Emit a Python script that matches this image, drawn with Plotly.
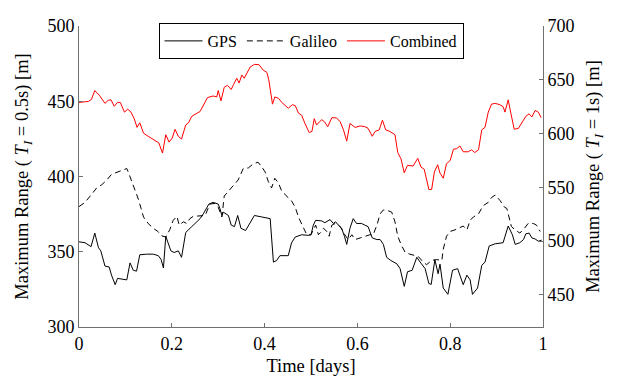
import plotly.graph_objects as go

# ---- data ----
gps_t = [0, 0.013, 0.026, 0.034, 0.042, 0.047, 0.056, 0.065, 0.070, 0.078, 0.083, 0.092, 0.103, 0.110, 0.117, 0.124,
         0.131, 0.146, 0.160, 0.171, 0.177, 0.182, 0.187, 0.192, 0.198, 0.205, 0.214, 0.221, 0.230, 0.243, 0.254,
         0.261, 0.268, 0.275, 0.280, 0.289, 0.300, 0.304, 0.308, 0.311, 0.322, 0.328, 0.335, 0.342, 0.349, 0.359,
         0.369, 0.378, 0.394, 0.412, 0.419, 0.426, 0.433, 0.451, 0.458, 0.466, 0.480, 0.494, 0.500, 0.505, 0.510,
         0.516, 0.523, 0.530, 0.541, 0.548, 0.553, 0.559, 0.566, 0.572, 0.577, 0.584, 0.591, 0.598, 0.609, 0.616,
         0.623, 0.632, 0.642, 0.649, 0.656, 0.663, 0.672, 0.685, 0.692, 0.701, 0.708, 0.718, 0.728, 0.737, 0.746,
         0.754, 0.759, 0.767, 0.774, 0.778, 0.785, 0.795, 0.805, 0.816, 0.828, 0.836, 0.843, 0.848, 0.859, 0.868,
         0.875, 0.884, 0.897, 0.914, 0.925, 0.934, 0.940, 0.950, 0.958, 0.963, 0.970, 0.976, 0.983, 0.990, 0.997]
gps_v = [356.6, 356.0, 353.4, 362.4, 352.7, 350.6, 340.5, 339.9, 334.5, 328.1, 332.3, 332.0, 331.3, 342.6, 337.7, 337.1,
         348.0, 348.4, 348.4, 347.4, 344.8, 339.2, 360.3, 355.9, 350.6, 349.5, 350.6, 346.3, 362.8, 366.7, 369.9,
         372.0, 375.2, 378.5, 381.7, 382.8, 381.7, 378.5, 374.1, 376.3, 374.1, 367.7, 366.7, 374.1, 365.6, 364.1,
         369.9, 374.1, 373.1, 372.0, 343.1, 344.2, 347.4, 347.4, 355.9, 359.8, 361.3, 360.9, 361.3, 367.7, 370.9,
         370.5, 370.5, 369.3, 371.4, 368.8, 369.9, 367.7, 365.6, 360.3, 354.9, 365.6, 372.0, 368.8, 368.8, 367.7,
         366.7, 359.2, 358.1, 358.1, 354.9, 346.3, 344.2, 342.0, 338.8, 327.0, 336.7, 337.7, 346.3, 342.4, 338.8,
         328.9, 328.3, 344.7, 335.4, 341.8, 325.9, 321.7, 337.7, 338.8, 328.1, 334.5, 331.3, 321.7, 325.9, 341.0,
         343.1, 353.8, 355.3, 356.0, 367.1, 361.3, 354.9, 356.0, 358.1, 361.9, 362.4, 359.2, 358.5, 357.0, 357.7]

gal_t = [0, 0.013, 0.027, 0.038, 0.049, 0.060, 0.070, 0.081, 0.092, 0.103, 0.106, 0.114, 0.121, 0.128, 0.134, 0.139,
         0.149, 0.160, 0.170, 0.178, 0.187, 0.196, 0.203, 0.211, 0.216, 0.225, 0.232, 0.239, 0.246, 0.261, 0.272,
         0.282, 0.293, 0.300, 0.308, 0.313, 0.322, 0.333, 0.343, 0.354, 0.365, 0.376, 0.386, 0.394, 0.401, 0.408,
         0.415, 0.422, 0.430, 0.437, 0.448, 0.458, 0.466, 0.473, 0.481, 0.491, 0.500, 0.505, 0.510, 0.516, 0.523,
         0.527, 0.534, 0.539, 0.545, 0.552, 0.563, 0.573, 0.580, 0.588, 0.595, 0.606, 0.616, 0.627, 0.634, 0.642,
         0.649, 0.656, 0.665, 0.674, 0.681, 0.687, 0.694, 0.703, 0.713, 0.724, 0.731, 0.742, 0.749, 0.760, 0.771,
         0.782, 0.785, 0.792, 0.800, 0.810, 0.817, 0.828, 0.836, 0.843, 0.850, 0.861, 0.871, 0.882, 0.889, 0.897,
         0.907, 0.917, 0.922, 0.927, 0.932, 0.940, 0.950, 0.960, 0.968, 0.979, 0.986, 0.994]
gal_v = [380.0, 382.8, 388.1, 392.4, 394.5, 397.7, 401.4, 402.7, 403.5, 405.3, 403.1, 396.7, 390.2, 384.9, 378.5, 373.1,
         368.8, 365.6, 363.5, 360.6, 359.8, 364.9, 370.9, 373.5, 367.7, 369.9, 368.8, 372.0, 373.5, 374.1, 374.1,
         381.7, 382.1, 379.6, 373.1, 387.0, 390.2, 393.4, 397.7, 405.3, 405.7, 408.5, 409.5, 406.3, 403.1, 396.7,
         392.4, 398.8, 395.6, 390.2, 387.0, 383.8, 379.6, 373.1, 367.7, 361.3, 361.3, 364.5, 367.7, 361.3, 363.5,
         365.6, 363.5, 360.3, 367.7, 368.8, 366.7, 361.3, 358.1, 361.3, 358.1, 359.2, 360.3, 361.3, 361.3, 367.7,
         375.2, 377.8, 377.4, 376.3, 369.9, 360.3, 354.9, 349.5, 348.4, 347.4, 346.9, 343.1, 341.4, 344.2, 344.8,
         344.2, 351.6, 360.3, 363.5, 364.5, 365.6, 367.1, 364.5, 370.9, 373.1, 375.2, 380.6, 382.8, 386.0, 387.7,
         384.2, 379.6, 378.8, 372.0, 366.7, 364.5, 362.4, 365.6, 368.8, 368.8, 367.7, 363.5]

comb_t = [0, 0.020, 0.027, 0.034, 0.045, 0.056, 0.063, 0.069, 0.076, 0.083, 0.089, 0.098, 0.105, 0.112, 0.119, 0.125,
          0.131, 0.139, 0.149, 0.164, 0.172, 0.180, 0.187, 0.194, 0.201, 0.207, 0.214, 0.221, 0.230, 0.236, 0.243,
          0.252, 0.261, 0.277, 0.289, 0.297, 0.300, 0.306, 0.313, 0.320, 0.328, 0.333, 0.340, 0.345, 0.351, 0.356,
          0.361, 0.369, 0.378, 0.388, 0.397, 0.405, 0.409, 0.417, 0.422, 0.430, 0.437, 0.444, 0.451, 0.460, 0.466,
          0.473, 0.480, 0.487, 0.496, 0.502, 0.507, 0.512, 0.523, 0.529, 0.536, 0.545, 0.555, 0.563, 0.570, 0.577,
          0.584, 0.595, 0.606, 0.616, 0.623, 0.632, 0.638, 0.647, 0.654, 0.661, 0.670, 0.681, 0.687, 0.694, 0.701,
          0.708, 0.720, 0.730, 0.737, 0.744, 0.754, 0.760, 0.766, 0.773, 0.778, 0.785, 0.792, 0.800, 0.807, 0.814,
          0.821, 0.828, 0.839, 0.846, 0.853, 0.861, 0.868, 0.875, 0.882, 0.889, 0.897, 0.907, 0.914, 0.918, 0.925,
          0.931, 0.938, 0.947, 0.954, 0.963, 0.970, 0.976, 0.983, 0.990, 0.996]
comb_v = [628.9, 629.8, 631.8, 640.0, 634.9, 628.0, 630.9, 631.3, 625.3, 628.9, 628.9, 619.9, 622.6, 619.9, 613.8, 605.7,
          610.0, 600.3, 597.4, 592.9, 591.3, 581.8, 598.9, 592.0, 595.8, 603.9, 597.4, 594.9, 607.9, 610.0, 616.0,
          618.3, 620.5, 633.4, 634.9, 634.0, 640.0, 630.4, 643.0, 644.8, 640.9, 645.4, 651.4, 646.9, 654.4, 651.4,
          655.9, 661.9, 664.3, 664.0, 658.9, 656.8, 649.9, 627.3, 634.0, 632.7, 628.9, 625.9, 623.5, 626.8, 625.9,
          619.0, 616.9, 609.3, 601.0, 601.9, 613.8, 607.9, 612.9, 610.9, 606.4, 614.7, 614.5, 610.9, 603.4, 592.9,
          609.3, 605.7, 607.0, 606.4, 604.8, 597.4, 601.9, 603.4, 612.4, 603.4, 601.9, 598.9, 582.3, 576.4, 563.4,
          570.4, 569.7, 576.9, 568.8, 566.8, 547.9, 547.9, 564.3, 571.0, 563.2, 558.4, 571.9, 574.9, 585.4, 585.9,
          588.4, 583.0, 583.0, 584.8, 582.3, 584.8, 603.4, 605.7, 619.9, 627.3, 628.0, 626.8, 625.0, 619.9, 631.3,
          618.3, 603.9, 604.8, 609.3, 616.0, 618.3, 615.4, 621.4, 619.9, 614.7]

x_ticks = [0, 0.2, 0.4, 0.6, 0.8, 1]
x_tick_labels = ["0", "0.2", "0.4", "0.6", "0.8", "1"]
y_left_ticks = [300, 350, 400, 450, 500]
y_right_ticks = [450, 500, 550, 600, 650, 700]

FONT = "Liberation Serif"
AX = "#707070"

fig = go.Figure()
fig.add_trace(go.Scatter(x=gps_t, y=gps_v, mode="lines", name="GPS",
                         line=dict(color="black", width=1)))
fig.add_trace(go.Scatter(x=gal_t, y=gal_v, mode="lines", name="Galileo",
                         line=dict(color="black", width=1, dash="6px,4px")))
fig.add_trace(go.Scatter(x=comb_t, y=comb_v, mode="lines", name="Combined", yaxis="y2",
                         line=dict(color="red", width=1)))

axis_common = dict(showline=True, linecolor=AX, linewidth=1, ticks="inside", ticklen=4,
                   tickcolor=AX, showgrid=False, zeroline=False, ticklabeloverflow="allow",
                   tickfont=dict(family=FONT, size=18, color="black"))

TITLE_FONT = dict(family=FONT, size=18.5, color="black")

fig.update_layout(
    width=609, height=375,
    margin=dict(l=71, r=74, t=8, b=56),
    paper_bgcolor="white", plot_bgcolor="white",
    font=dict(family=FONT, size=18, color="black"),
    showlegend=True,
    legend=dict(orientation="h", x=0.5, xanchor="center", y=1.01, yanchor="top",
                bgcolor="white", bordercolor="black", borderwidth=1,
                font=dict(family=FONT, size=16, color="black"),
                itemwidth=38, tracegroupgap=0),
    xaxis=dict(range=[0, 1], tickvals=x_ticks, ticktext=x_tick_labels,
               title=dict(text="Time [days]", font=TITLE_FONT, standoff=6),
               **axis_common),
    yaxis=dict(range=[300, 500], tickvals=y_left_ticks,
               title=dict(text="Maximum Range ( <i>T</i><sub><i>I</i></sub> = 0.5s) [m]",
                          font=TITLE_FONT, standoff=13),
               **axis_common),
    yaxis2=dict(range=[420, 700], tickvals=y_right_ticks, overlaying="y", side="right",
                title=dict(text="Maximum Range ( <i>T</i><sub><i>I</i></sub> = 1s) [m]",
                           font=TITLE_FONT, standoff=12),
                **axis_common),
)

fig.write_html("out.html")
